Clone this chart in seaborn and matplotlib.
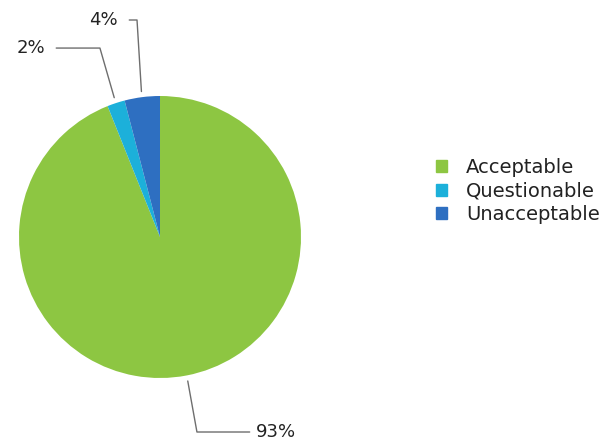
import numpy as np
import matplotlib
matplotlib.use("Agg")
import matplotlib.pyplot as plt
import seaborn as sns

# data
categories = ["Acceptable", "Questionable", "Unacceptable"]
percents = [93, 2, 4]
colors = ["#8dc642", "#1cb0da", "#2e6fc1"]

# label placement (elbow point and text position, in pie units)
elbows = [(0.262, -1.383), (-0.426, 1.340), (-0.163, 1.539)]
text_x = [0.681, -0.816, -0.298]

sns.set_theme(style="white")
plt.rcParams["font.family"] = ["DejaVu Sans"]

fig = plt.figure(figsize=(6.12, 4.41), dpi=100)
ax = fig.add_axes([19 / 612, 63 / 441, 282 / 612, 282 / 441])

wedges, _ = ax.pie(percents, colors=colors, startangle=90, counterclock=False,
                   wedgeprops=dict(linewidth=0))
ax.set_xlim(-1, 1)
ax.set_ylim(-1, 1)
ax.set_aspect("equal")
ax.axis("off")

line_col = "#6e6e6e"
for w, p, (ex, ey), tx in zip(wedges, percents, elbows, text_x):
    mid = np.deg2rad((w.theta1 + w.theta2) / 2)
    sx, sy = 1.04 * np.cos(mid), 1.04 * np.sin(mid)
    lx = tx - 0.045 if tx > ex else tx + 0.08
    ax.plot([sx, ex, lx], [sy, ey, ey], color=line_col, lw=1, clip_on=False)
    ha = "left" if tx > ex else "right"
    ax.text(tx, ey, f"{p}%", ha=ha, va="center", fontsize=13, color="#222222",
            clip_on=False)

handles = [plt.Rectangle((0, 0), 1, 1, color=c) for c in colors]
fig.legend(handles, categories, loc="upper left",
           bbox_to_anchor=(436 / 612, (441 - 158) / 441), frameon=False,
           fontsize=14, handlelength=0.58, handleheight=0.58, handletextpad=0.95,
           labelspacing=0.23, borderpad=0, borderaxespad=0,
           labelcolor="#222222")

fig.savefig("out.png", dpi=100)
